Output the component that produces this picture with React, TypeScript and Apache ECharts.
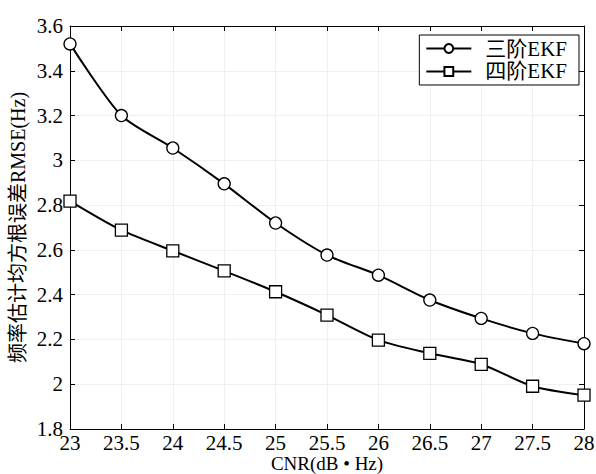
import React, { useEffect, useRef } from "react";
import * as echarts from "echarts";

const xCategories = [23, 23.5, 24, 24.5, 25, 25.5, 26, 26.5, 27, 27.5, 28];
const thirdOrder = [3.52, 3.2, 3.055, 2.895, 2.72, 2.577, 2.487, 2.376, 2.294, 2.227, 2.181];
const fourthOrder = [2.818, 2.688, 2.596, 2.506, 2.413, 2.309, 2.197, 2.138, 2.089, 1.991, 1.951];
const seriesNames = ["三阶EKF", "四阶EKF"];

const FONT = "'Liberation Serif', 'Noto Sans CJK SC', serif";

export default function App() {
  const ref = useRef<HTMLDivElement>(null);
  useEffect(() => {
    if (!ref.current) return;
    const chart = echarts.init(ref.current, null, { renderer: "svg" });
    const axisCommon = {
      axisLine: { show: true, onZero: false, lineStyle: { color: "#000", width: 1 } },
      axisTick: { show: true, inside: true, length: 5, lineStyle: { color: "#000" } },
    };
    chart.setOption({
      animation: false,
      backgroundColor: "#fff",
      textStyle: { fontFamily: FONT },
      grid: { left: 70, right: 12, top: 26, bottom: 45, containLabel: false, outerBoundsMode: "none" },
      legend: {
        orient: "vertical",
        right: 17,
        top: 35,
        data: seriesNames,
        borderColor: "#000",
        borderWidth: 1,
        backgroundColor: "#fff",
        padding: [3, 12, 3, 6],
        itemGap: 2,
        itemWidth: 45,
        itemHeight: 11,
        formatter: "{t|{name}}",
        textStyle: {
          fontFamily: FONT,
          fontSize: 21,
          color: "#000",
          rich: { t: { fontFamily: FONT, fontSize: 21, color: "#000", padding: [0, 0, 0, 9] } },
        },
      },
      xAxis: [
        {
          type: "value",
          min: 23,
          max: 28,
          interval: 0.5,
          name: "CNR(dB • Hz)",
          nameLocation: "middle",
          nameGap: 25,
          nameMoveOverlap: false,
          nameTextStyle: { fontFamily: FONT, fontSize: 19, color: "#000" },
          ...axisCommon,
          axisLabel: { fontFamily: FONT, fontSize: 21, color: "#000", margin: 3 },
          splitLine: { show: true, lineStyle: { color: "#f0f0f0" } },
        },
        {
          type: "value",
          position: "top",
          min: 23,
          max: 28,
          interval: 0.5,
          ...axisCommon,
          axisLabel: { show: false },
          splitLine: { show: false },
        },
      ],
      yAxis: [
        {
          type: "value",
          min: 1.8,
          max: 3.6,
          interval: 0.2,
          name: "频率估计均方根误差RMSE(Hz)",
          nameLocation: "middle",
          nameGap: 42,
          nameMoveOverlap: false,
          nameTextStyle: { fontFamily: FONT, fontSize: 20, color: "#000" },
          ...axisCommon,
          axisLabel: {
            fontFamily: FONT,
            fontSize: 21,
            color: "#000",
            margin: 7,
            formatter: (v: number) => String(Math.round(v * 10) / 10),
          },
          splitLine: { show: true, lineStyle: { color: "#f0f0f0" } },
        },
        {
          type: "value",
          position: "right",
          min: 1.8,
          max: 3.6,
          interval: 0.2,
          ...axisCommon,
          axisLabel: { show: false },
          splitLine: { show: false },
        },
      ],
      series: [
        {
          name: seriesNames[0],
          type: "line",
          smooth: 0.25,
          data: xCategories.map((x, i) => [x, thirdOrder[i]]),
          symbol: "circle",
          symbolSize: 12,
          showAllSymbol: true,
          lineStyle: { color: "#000", width: 2 },
          itemStyle: { color: "#fff", borderColor: "#000", borderWidth: 1.3 },
          z: 3,
        },
        {
          name: seriesNames[1],
          type: "line",
          smooth: 0.25,
          data: xCategories.map((x, i) => [x, fourthOrder[i]]),
          symbol: "rect",
          symbolSize: 12,
          showAllSymbol: true,
          lineStyle: { color: "#000", width: 2 },
          itemStyle: { color: "#fff", borderColor: "#000", borderWidth: 1.3 },
          z: 3,
        },
      ],
    });
    return () => chart.dispose();
  }, []);
  return <div ref={ref} style={{ width: 596, height: 474, position: "absolute", left: 0, top: 0 }} />;
}
